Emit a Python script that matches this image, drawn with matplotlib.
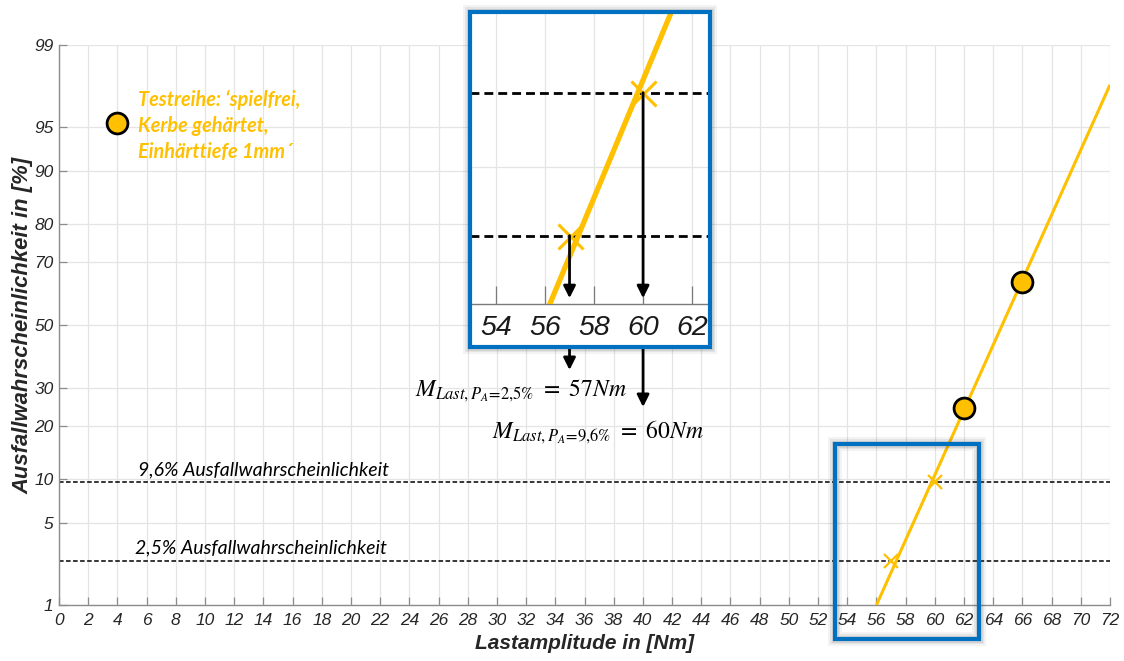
import math
from statistics import NormalDist

import numpy as np
import matplotlib
matplotlib.use("Agg")
import matplotlib.pyplot as plt
from matplotlib.patches import Rectangle

# ---- data -------------------------------------------------------------
test_x = [62, 66]                 # Lastamplitude of the test results [Nm]
test_p = [24.5, 64.0]             # failure probability [%]
fit_x = [56, 72]                  # fitted distribution line (end points)
fit_p = [1.0, 97.7]
quantile_x = [57, 60]             # read-off load amplitudes [Nm]
quantile_p = [2.5, 9.6]           # corresponding failure probabilities [%]
quantile_text = ["2,5% Ausfallwahrscheinlichkeit", "9,6% Ausfallwahrscheinlichkeit"]
math_labels = [r"$M_{Last,P_A\!=\!2{,}5\%}\ =\ 57Nm$", r"$M_{Last,P_A\!=\!9{,}6\%}\ =\ 60Nm$"]
y_ticks = [1, 5, 10, 20, 30, 50, 70, 80, 90, 95, 99]
x_ticks = list(range(0, 73, 2))
inset_ticks = [54, 56, 58, 60, 62]
legend_text = "Testreihe: \u2018spielfrei,\nKerbe gehärtet,\nEinhärttiefe 1mm\u00b4"

ORANGE = "#FFC000"
BLUE = "#0070C0"
W, H = 1124, 661

# ---- normal probability scale ----------------------------------------
_nd = NormalDist()
_ppf = np.vectorize(lambda q: _nd.inv_cdf(q), otypes=[float])
_erf = np.vectorize(math.erf, otypes=[float])


def prob_fwd(p):
    p = np.clip(np.asarray(p, dtype=float), 1e-9, 100 - 1e-9)
    return _ppf(p / 100.0)


def prob_inv(z):
    return 50.0 * (1.0 + _erf(np.asarray(z, dtype=float) / math.sqrt(2.0)))


def fx(px):
    return px / W


def fy(py):
    return 1 - py / H


plt.rcParams["font.family"] = ["Liberation Sans", "DejaVu Sans"]
plt.rcParams["mathtext.fontset"] = "stix"

fig = plt.figure(figsize=(W / 100, H / 100), dpi=100)

# ---- main axes --------------------------------------------------------
ax = fig.add_axes([fx(59), fy(605), fx(1110) - fx(59), fy(45) - fy(605)])
ax.set_yscale("function", functions=(prob_fwd, prob_inv))
ax.set_xlim(0, 72)
ax.set_ylim(1, 99)
ax.set_xticks(x_ticks)
ax.set_yticks(y_ticks)
ax.set_yticklabels([str(v) for v in y_ticks])
ax.minorticks_off()
ax.grid(True, color="#e4e4e4", lw=0.9)
ax.set_axisbelow(True)
for s in ("top", "right"):
    ax.spines[s].set_visible(False)
for s in ("left", "bottom"):
    ax.spines[s].set_color("#8c8c8c")
    ax.spines[s].set_linewidth(1.0)
ax.tick_params(direction="in", length=6, width=0.9, color="#8c8c8c",
               labelsize=12.5, labelcolor="#262626")
for lab in ax.get_xticklabels() + ax.get_yticklabels():
    lab.set_fontstyle("italic")
ax.tick_params(axis="x", pad=6)
ax.tick_params(axis="y", pad=4)

ax.set_xlabel("Lastamplitude in [Nm]", fontsize=15, fontweight="bold",
              fontstyle="italic", color="#262626", labelpad=4)
ax.set_ylabel("Ausfallwahrscheinlichkeit in [%]", fontsize=15.8, fontweight="bold",
              fontstyle="italic", color="#262626", labelpad=0.5)

# horizontal quantile lines with labels
for p, txt, xl in zip(quantile_p, quantile_text, [5.2, 5.4]):
    ax.axhline(p, color="black", lw=1.1, ls=(0, (3, 1.6)), zorder=2)
    ax.annotate(txt, xy=(xl, p), xytext=(0, 3), textcoords="offset points",
                ha="left", va="bottom", fontsize=14, fontstyle="italic",
                family=["Lato", "DejaVu Sans"], color="black")

ax.plot(fit_x, fit_p, color=ORANGE, lw=2.2, zorder=3, solid_capstyle="butt")
ax.plot(quantile_x, quantile_p, "x", color=ORANGE, ms=10, mew=1.6, zorder=4)
ax.plot(test_x, test_p, "o", color=ORANGE, mec="black", mew=2.0, ms=15, zorder=5)

# legend entry
ax.plot([4], [95.3], "o", color=ORANGE, mec="black", mew=2.0, ms=15,
        zorder=5, clip_on=False)
fig.text(fx(138), fy(90), legend_text, ha="left", va="top", fontsize=14.3,
         fontweight="bold", fontstyle="italic", color=ORANGE,
         family=["Lato", "DejaVu Sans"], linespacing=1.35)


# ---- framed boxes with soft shadow -----------------------------------
def shadow(x0, y0, x1, y1, z):
    for lw, a in [(14, 0.06), (10, 0.08), (7, 0.10)]:
        fig.add_artist(Rectangle((fx(x0), fy(y1)), fx(x1) - fx(x0), fy(y0) - fy(y1),
                                 transform=fig.transFigure, fill=False,
                                 edgecolor="#404040", lw=lw * 0.72, alpha=a, zorder=z))


def frame(x0, y0, x1, y1, z):
    fig.add_artist(Rectangle((fx(x0), fy(y1)), fx(x1) - fx(x0), fy(y0) - fy(y1),
                             transform=fig.transFigure, fill=False,
                             edgecolor=BLUE, lw=3.0, zorder=z))


shadow(835, 444, 979, 639, 1.2)
frame(835, 444, 979, 639, 1.3)

# inset box
shadow(470, 12, 710, 347, 1.4)
fig.add_artist(Rectangle((fx(470), fy(347)), fx(710) - fx(470), fy(12) - fy(347),
                         transform=fig.transFigure, facecolor="white",
                         edgecolor="none", zorder=1.5))

ax_in = fig.add_axes([fx(470), fy(304), fx(710) - fx(470), fy(12) - fy(304)])
ax_in.set_zorder(2)
ax_in.patch.set_alpha(0)
ax_in.set_yscale("function", functions=(prob_fwd, prob_inv))
ax_in.set_xlim(52.94, 62.73)
ax_in.set_ylim(1.15, 17.5)
ax_in.set_xticks(inset_ticks)
ax_in.set_yticks([5])
ax_in.minorticks_off()
ax_in.grid(True, color="#e4e4e4", lw=0.9)
ax_in.set_axisbelow(True)
for s in ("top", "right", "left"):
    ax_in.spines[s].set_visible(False)
ax_in.spines["bottom"].set_color("#7a7a7a")
ax_in.spines["bottom"].set_linewidth(1.0)
ax_in.tick_params(axis="x", direction="in", length=13, width=0.9, color="#7a7a7a",
                  labelsize=20.5, labelcolor="#1a1a1a", pad=8)
ax_in.tick_params(axis="y", left=False, labelleft=False)
for lab in ax_in.get_xticklabels():
    lab.set_fontstyle("italic")

for p in quantile_p:
    ax_in.axhline(p, color="black", lw=2.0, ls=(0, (3.2, 1.8)), zorder=2)
ax_in.plot(fit_x, fit_p, color=ORANGE, lw=3.8, zorder=3, solid_capstyle="butt")
ax_in.plot(quantile_x, quantile_p, "x", color=ORANGE, ms=18, mew=2.2, zorder=4)

arrow = dict(arrowstyle="-|>", color="black", lw=2.0, mutation_scale=18,
             shrinkA=0, shrinkB=0)
for qx, qp, yend, lab, lx, ly in zip(quantile_x, quantile_p, [370, 407],
                                     math_labels, [415, 492], [391, 432]):
    ax_in.annotate("", xy=(qx, 0.02), xycoords=("data", "axes fraction"),
                   xytext=(qx, qp), textcoords="data", arrowprops=arrow,
                   zorder=5)
    ax_in.annotate("", xy=(qx, fy(yend)), xycoords=("data", "figure fraction"),
                   xytext=(qx, fy(347)), textcoords=("data", "figure fraction"),
                   arrowprops=arrow, annotation_clip=False)
    fig.text(fx(lx), fy(ly), lab, ha="left", va="center", fontsize=17,
             color="black")

frame(470, 12, 710, 347, 3)

fig.savefig("out.png", dpi=100)
